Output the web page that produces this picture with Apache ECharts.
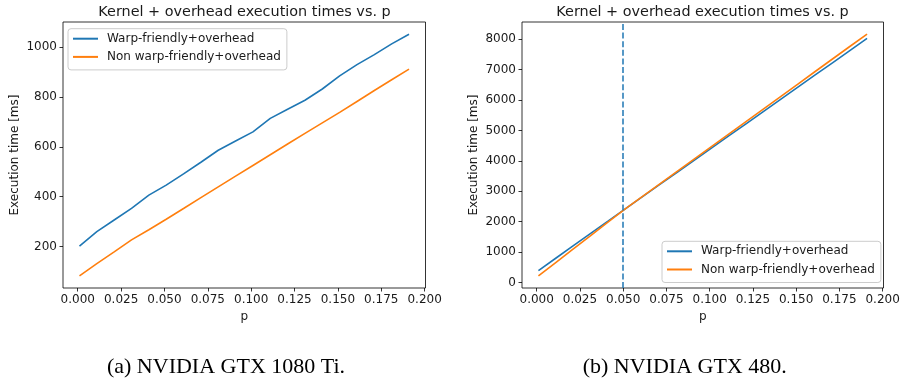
<!DOCTYPE html>
<html>
<head>
<meta charset="utf-8">
<script src="https://cdn.jsdelivr.net/npm/echarts@6/dist/echarts.min.js"></script>
<style>
html,body{margin:0;padding:0;background:#fff;}
#c{width:905px;height:383px;}
</style>
</head>
<body>
<div id="c"></div>
<script>
const P = [0.001,0.011,0.021,0.031,0.041,0.051,0.061,0.071,0.081,0.091,0.101,0.111,0.121,0.131,0.141,0.151,0.161,0.171,0.181,0.191];
const gtx1080Warp    = [201,259,306,353,406,446,491,538,586,623,660,714,751,787,832,885,930,970,1013,1052];
const gtx1080NonWarp = [82,131,178,226,267,309,352,396,439,482,525,568,611,654,696,738,782,826,869,912];
const gtx480Warp     = [395,800,1205,1610,2012,2416,2818,3218,3618,4018,4418,4818,5218,5618,6020,6420,6822,7222,7622,8023];
const gtx480NonWarp  = [220,660,1098,1537,1976,2416,2826,3236,3647,4058,4469,4880,5291,5702,6113,6524,6935,7346,7757,8165];
const CROSS_P = 0.0505;
const X_TICKS = [0,0.025,0.05,0.075,0.1,0.125,0.15,0.175,0.2];
const Y_TICKS_A = [200,400,600,800,1000];
const Y_TICKS_B = [0,1000,2000,3000,4000,5000,6000,7000,8000];
const SERIES_NAMES = ['Warp-friendly+overhead','Non warp-friendly+overhead'];
const TITLE = 'Kernel + overhead execution times vs. p';
const CAPTIONS = ['(a) NVIDIA GTX 1080 Ti.','(b) NVIDIA GTX 480.'];

const BLUE = '#1f77b4', ORANGE = '#ff7f0e';
const FONT = 'DejaVu Sans';
const FS = 12;
const TXT = '#1a1a1a';
const pairs = (ys) => P.map((p, i) => [p, ys[i]]);

function xAxis(gi) {
  return {
    type: 'value', gridIndex: gi, min: -0.0085, max: 0.2005,
    name: 'p', nameLocation: 'middle', nameGap: 20,
    nameTextStyle: {fontFamily: FONT, fontSize: FS, color: TXT},
    axisLine: {show: false, onZero: false},
    axisTick: {show: true, inside: false, length: 3.5, customValues: X_TICKS, lineStyle: {color: '#000', width: 0.8}},
    axisLabel: {show: true, margin: 6, customValues: X_TICKS, fontFamily: FONT, fontSize: FS, color: TXT,
      formatter: v => v.toFixed(3)},
    splitLine: {show: false}
  };
}
function yAxis(gi, min, max, ticks) {
  return {
    type: 'value', gridIndex: gi, min: min, max: max,
    name: 'Execution time [ms]', nameLocation: 'middle', nameGap: 42, nameRotate: 90,
    nameTextStyle: {fontFamily: FONT, fontSize: FS, color: TXT},
    axisLine: {show: false, onZero: false},
    axisTick: {show: true, inside: false, length: 3.5, customValues: ticks, lineStyle: {color: '#000', width: 0.8}},
    axisLabel: {show: true, margin: 6, customValues: ticks, fontFamily: FONT, fontSize: FS, color: TXT,
      formatter: v => String(Math.round(v))},
    splitLine: {show: false}
  };
}
function line(name, data, color, xi, extra) {
  return Object.assign({
    type: 'line', name: name, xAxisIndex: xi, yAxisIndex: xi, data: data,
    symbol: 'none', showSymbol: false, smooth: false, animation: false,
    lineStyle: {color: color, width: 1.6}, itemStyle: {color: color},
    emphasis: {disabled: true}
  }, extra || {});
}
function legend(left, top) {
  return {
    orient: 'vertical', left: left, top: top, data: SERIES_NAMES,
    itemWidth: 25, itemHeight: 14, itemGap: 6.2,
    itemStyle: {opacity: 0},
    backgroundColor: 'rgba(255,255,255,0.8)', borderColor: '#cccccc', borderWidth: 1, borderRadius: 3,
    padding: [4, 6, 7, 4],
    textStyle: {fontFamily: FONT, fontSize: FS, color: TXT, padding: [0, 0, 0, 4]},
    selectedMode: false
  };
}

const chart = echarts.init(document.getElementById('c'), null, {renderer: 'canvas'});
chart.setOption({
  animation: false,
  backgroundColor: '#fff',
  grid: [
    {left: 63, top: 22, width: 362.5, height: 266, show: true, borderColor: '#000', borderWidth: 0.8, backgroundColor: 'transparent'},
    {left: 522, top: 22, width: 361.5, height: 266, show: true, borderColor: '#000', borderWidth: 0.8, backgroundColor: 'transparent'}
  ],
  xAxis: [xAxis(0), xAxis(1)],
  yAxis: [yAxis(0, 33, 1101, Y_TICKS_A), yAxis(1, -177, 8562, Y_TICKS_B)],
  legend: [legend(68, 28.7), legend(662, 241.3)],
  series: [
    line(SERIES_NAMES[0], pairs(gtx1080Warp), BLUE, 0),
    line(SERIES_NAMES[1], pairs(gtx1080NonWarp), ORANGE, 0),
    line(SERIES_NAMES[0], pairs(gtx480Warp), BLUE, 1, {
      markLine: {
        silent: true, symbol: ['none', 'none'], label: {show: false},
        lineStyle: {color: BLUE, type: [6, 2.6], width: 1.5},
        data: [{xAxis: CROSS_P}]
      }
    }),
    line(SERIES_NAMES[1], pairs(gtx480NonWarp), ORANGE, 1)
  ],
  graphic: [
    {type: 'text', x: 244.5, y: 12.5, style: {text: TITLE, fontFamily: FONT, fontSize: 14.4, fill: TXT, align: 'center', verticalAlign: 'middle'}},
    {type: 'text', x: 702.5, y: 12.5, style: {text: TITLE, fontFamily: FONT, fontSize: 14.4, fill: TXT, align: 'center', verticalAlign: 'middle'}},
    {type: 'text', x: 226, y: 367, style: {text: CAPTIONS[0], fontFamily: 'Liberation Serif', fontSize: 22, fill: '#000', align: 'center', verticalAlign: 'middle'}},
    {type: 'text', x: 684.7, y: 367, style: {text: CAPTIONS[1], fontFamily: 'Liberation Serif', fontSize: 22, fill: '#000', align: 'center', verticalAlign: 'middle'}}
  ]
});
</script>
</body>
</html>
